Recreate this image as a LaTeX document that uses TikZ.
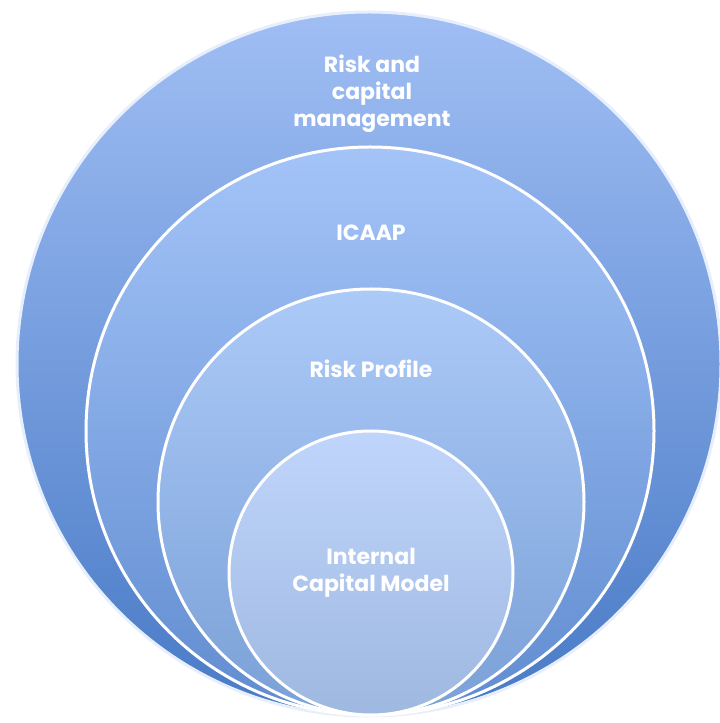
\documentclass[tikz,border=0pt]{standalone}
\usepackage{fontspec}
\setmainfont{Poppins}
\definecolor{topA}{RGB}{160,190,244}
\definecolor{botA}{RGB}{72,122,198}
\definecolor{topB}{RGB}{164,196,248}
\definecolor{botB}{RGB}{96,140,208}
\definecolor{topC}{RGB}{172,202,248}
\definecolor{botC}{RGB}{122,160,214}
\definecolor{topD}{RGB}{192,213,251}
\definecolor{botD}{RGB}{158,184,224}
\tikzset{ring/.style = {shape=circle,draw=white,line width=3pt,inner sep=0pt}}
\tikzset{label/.style = {text=white,font=\bfseries\fontsize{22}{27}\selectfont,align=center}}

\begin{document}
\begin{tikzpicture}[x=1pt,y=1pt]
          \useasboundingbox (0,0) rectangle (720,723);
          \node[ring,minimum size=704pt,top color=topA,bottom color=botA,draw=white!75!topA] (rcm) at (369,359) {};
          \node[ring,minimum size=568pt,top color=topB,bottom color=botB] (icaap) at (370,292) {};
          \node[ring,minimum size=426pt,top color=topC,bottom color=botC] (prof) at (371,221) {};
          \node[ring,minimum size=284pt,top color=topD,bottom color=botD] (icm) at (371,150) {};

          \node[label] (trcm) at (372,629) {Risk and\\capital\\management};
          \node[label] (ticaap) at (371,490) {ICAAP};
          \node[label] (tprof) at (371,354) {Risk Profile};
          \node[label] (ticm) at (371,150) {Internal\\Capital Model};
        \end{tikzpicture}
\end{document}
